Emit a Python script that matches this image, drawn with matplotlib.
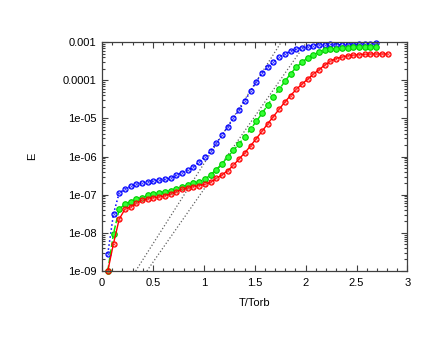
import matplotlib
matplotlib.use("Agg")
import matplotlib.pyplot as plt
from matplotlib.ticker import MultipleLocator, LogLocator, FixedLocator
import numpy as np

plt.rcParams['font.family'] = ['Liberation Sans', 'DejaVu Sans']

# time grid (T/Torb), one sample every ~0.056
dt = 0.0561

# log10(E)
logE_blue = [-8.55, -7.50, -6.95, -6.86, -6.78, -6.73, -6.69, -6.67, -6.64, -6.62,
             -6.60, -6.57, -6.49, -6.42, -6.35, -6.27, -6.14, -6.01, -5.86, -5.65,
             -5.44, -5.22, -5.00, -4.77, -4.54, -4.29, -4.04, -3.81, -3.65, -3.52,
             -3.39, -3.30, -3.24, -3.18, -3.15, -3.12, -3.09, -3.08, -3.07, -3.06,
             -3.07, -3.07, -3.07, -3.07, -3.06, -3.05, -3.05, -3.02]
logE_green = [-9.00, -8.02, -7.38, -7.25, -7.18, -7.11, -7.08, -7.02, -6.99, -6.95,
              -6.93, -6.90, -6.84, -6.79, -6.75, -6.70, -6.66, -6.60, -6.48, -6.34,
              -6.19, -6.01, -5.84, -5.66, -5.48, -5.28, -5.08, -4.87, -4.65, -4.43,
              -4.24, -4.03, -3.83, -3.66, -3.53, -3.41, -3.33, -3.26, -3.21, -3.18,
              -3.17, -3.16, -3.15, -3.14, -3.14, -3.13, -3.13, -3.12]
logE_red = [-9.00, -8.28, -7.64, -7.38, -7.32, -7.23, -7.15, -7.11, -7.08, -7.06,
            -7.03, -6.98, -6.92, -6.86, -6.82, -6.79, -6.76, -6.73, -6.67, -6.57,
            -6.48, -6.37, -6.23, -6.06, -5.90, -5.72, -5.53, -5.34, -5.14, -4.95,
            -4.76, -4.57, -4.40, -4.24, -4.10, -3.97, -3.84, -3.72, -3.60, -3.50,
            -3.43, -3.39, -3.36, -3.34, -3.33, -3.32, -3.31, -3.31, -3.31, -3.31]

# growth-rate guide lines (x at 1e-9 and at 1e-3)
guide1_t = [0.33, 1.76]
guide2_t = [0.44, 2.01]
guide_E = [1e-9, 1e-3]

xticks = [0, 0.5, 1, 1.5, 2, 2.5, 3]
xticklabels = ['0', '0.5', '1', '1.5', '2', '2.5', '3']
yticks = [1e-9, 1e-8, 1e-7, 1e-6, 1e-5, 1e-4, 1e-3]
yticklabels = ['1e-09', '1e-08', '1e-07', '1e-06', '1e-05', '0.0001', '0.001']


def series_t(vals):
    return np.arange(1, len(vals) + 1) * dt


fig = plt.figure(figsize=(4.4, 3.4), dpi=100)
ax = fig.add_axes([0.232, 0.203, 0.694, 0.673])

# guides
ax.plot(guide1_t, guide_E, ':', color='#606060', lw=0.9)
ax.plot(guide2_t, guide_E, ':', color='#606060', lw=0.9)

# series
tb, eb = series_t(logE_blue), 10 ** np.array(logE_blue)
tg, eg = series_t(logE_green), 10 ** np.array(logE_green)
tr, er = series_t(logE_red), 10 ** np.array(logE_red)

ax.plot(tb, eb, ':', color='#0000ff', lw=1.1,
        marker='o', ms=3.6, mfc='none', mew=0.9, clip_on=False)
ax.plot(tb, eb, ls='none', marker='x', ms=2.0, mec='#4444ff', mew=0.6, clip_on=False)
ax.plot(tg, eg, '--', color='#00ee00', lw=1.1,
        marker='o', ms=4.0, mfc='#33ff33', mec='#00cc00', mew=0.8, clip_on=False)
ax.plot(tr, er, '-', color='#ff0000', lw=1.0,
        marker='o', ms=3.6, mfc='none', mew=0.9, clip_on=False)
ax.plot(tr, er, ls='none', marker='x', ms=2.0, mec='#ff4444', mew=0.6, clip_on=False)

ax.set_yscale('log')
ax.set_xlim(0, 3)
ax.set_ylim(1e-9, 1e-3)

ax.xaxis.set_major_locator(FixedLocator(xticks))
ax.set_xticklabels(xticklabels)
ax.xaxis.set_minor_locator(MultipleLocator(0.1))
ax.yaxis.set_major_locator(FixedLocator(yticks))
ax.set_yticklabels(yticklabels)
ax.yaxis.set_minor_locator(LogLocator(base=10, subs=np.arange(2, 10), numticks=20))
ax.yaxis.set_minor_formatter(plt.NullFormatter())

ax.tick_params(which='both', direction='in', top=True, right=True, color='#404040',
               labelsize=8, width=0.8)
ax.tick_params(which='major', length=4)
ax.tick_params(which='minor', length=2)
ax.tick_params(axis='x', pad=5)
ax.tick_params(axis='y', pad=4)
for s in ax.spines.values():
    s.set_color('#404040')
    s.set_linewidth(0.9)

ax.set_xlabel('T/Torb', fontsize=8)
ax.set_ylabel('E', fontsize=8)
ax.xaxis.set_label_coords(0.5, -0.12)
ax.yaxis.set_label_coords(-0.213, 0.5)

fig.savefig('out.png', dpi=100)
